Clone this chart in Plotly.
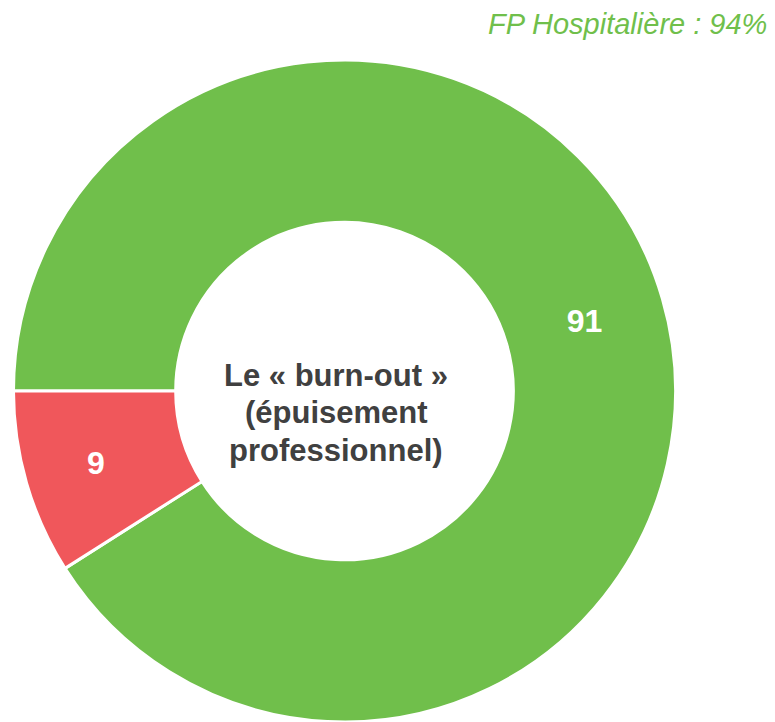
import plotly.graph_objects as go

labels = ["Oui", "Non"]
values = [91, 9]
slice_colors = ["#70BF4B", "#F0575B"]

center_lines = ["Le « burn-out »", "(épuisement", "professionnel)"]
corner_text = "FP Hospitalière : 94%"

W, H = 775, 722
M_T, M_B = 60, 0


def py(y_px):
    # pixel row from the top of the page -> paper y
    return (H - M_B - y_px) / (H - M_T - M_B)


fig = go.Figure(
    go.Pie(
        labels=labels,
        values=values,
        hole=0.51,
        sort=False,
        direction="clockwise",
        rotation=270,
        marker=dict(colors=slice_colors, line=dict(color="white", width=3)),
        textinfo="value",
        textposition="inside",
        insidetextorientation="horizontal",
        textfont=dict(family="Liberation Sans, Arial", size=32, color="white", weight="bold"),
        domain=dict(x=[0.0155, 0.8735], y=[0, 1]),
        showlegend=False,
        hoverinfo="label+value",
    )
)

for i, line in enumerate(center_lines):
    fig.add_annotation(
        text="<b>" + line + "</b>",
        x=336 / W, y=py(375 + i * 37.5),
        xref="paper", yref="paper",
        xanchor="center", yanchor="middle",
        showarrow=False,
        font=dict(family="Liberation Sans, Arial", size=31, color="#404040"),
    )

fig.add_annotation(
    text="<i>" + corner_text + "</i>",
    x=769 / W, y=py(24),
    xref="paper", yref="paper",
    xanchor="right", yanchor="middle",
    showarrow=False,
    font=dict(family="Liberation Sans, Arial", size=29, color="#70BF4B"),
)

fig.update_layout(
    width=W,
    height=H,
    margin=dict(l=0, r=0, t=M_T, b=M_B),
    paper_bgcolor="white",
    plot_bgcolor="white",
)

fig.write_html(
    "out.html",
    config={"displayModeBar": False},
    post_script="document.body.style.margin='0px';",
)
